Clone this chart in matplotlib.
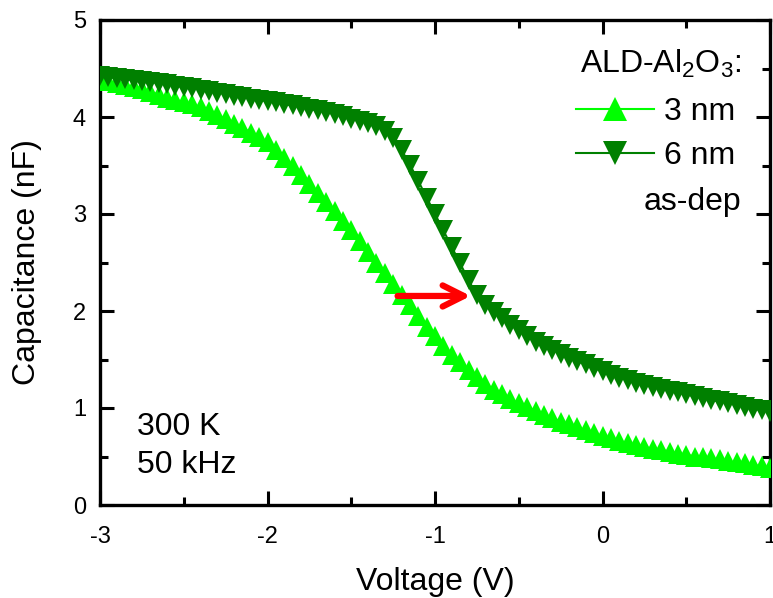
import numpy as np
import matplotlib.pyplot as plt
from matplotlib.lines import Line2D

plt.rcParams['font.family'] = ['Liberation Sans', 'DejaVu Sans']
plt.rcParams['mathtext.default'] = 'regular'
plt.rcParams['axes.unicode_minus'] = False

# gate voltage (V), 0.05 V steps
voltage = [-3.00, -2.95, -2.90, -2.85, -2.80, -2.75, -2.70, -2.65, -2.60, -2.55,
           -2.50, -2.45, -2.40, -2.35, -2.30, -2.25, -2.20, -2.15, -2.10, -2.05,
           -2.00, -1.95, -1.90, -1.85, -1.80, -1.75, -1.70, -1.65, -1.60, -1.55,
           -1.50, -1.45, -1.40, -1.35, -1.30, -1.25, -1.20, -1.15, -1.10, -1.05,
           -1.00, -0.95, -0.90, -0.85, -0.80, -0.75, -0.70, -0.65, -0.60, -0.55,
           -0.50, -0.45, -0.40, -0.35, -0.30, -0.25, -0.20, -0.15, -0.10, -0.05,
           0.00, 0.05, 0.10, 0.15, 0.20, 0.25, 0.30, 0.35, 0.40, 0.45,
           0.50, 0.55, 0.60, 0.65, 0.70, 0.75, 0.80, 0.85, 0.90, 0.95, 1.00]

# capacitance (nF), 3 nm ALD-Al2O3
cap_3nm = [4.38, 4.37, 4.35, 4.33, 4.31, 4.29, 4.26, 4.23, 4.20, 4.18,
           4.15, 4.13, 4.10, 4.06, 4.02, 3.98, 3.93, 3.89, 3.84, 3.79,
           3.74, 3.66, 3.58, 3.49, 3.40, 3.31, 3.22, 3.12, 3.03, 2.93,
           2.83, 2.72, 2.61, 2.50, 2.39, 2.28, 2.17, 2.06, 1.95, 1.84,
           1.74, 1.64, 1.55, 1.47, 1.39, 1.32, 1.25, 1.19, 1.14, 1.09,
           1.05, 1.01, 0.97, 0.93, 0.90, 0.86, 0.83, 0.80, 0.77, 0.74,
           0.71, 0.69, 0.66, 0.64, 0.62, 0.60, 0.58, 0.57, 0.55, 0.53,
           0.52, 0.50, 0.49, 0.48, 0.47, 0.45, 0.44, 0.43, 0.41, 0.40, 0.38]

# capacitance (nF), 6 nm ALD-Al2O3
cap_6nm = [4.42, 4.41, 4.40, 4.39, 4.38, 4.37, 4.36, 4.35, 4.34, 4.32,
           4.31, 4.30, 4.28, 4.27, 4.25, 4.24, 4.22, 4.21, 4.19, 4.18,
           4.16, 4.15, 4.13, 4.12, 4.10, 4.08, 4.07, 4.05, 4.03, 4.01,
           3.98, 3.96, 3.94, 3.91, 3.86, 3.78, 3.66, 3.51, 3.34, 3.17,
           3.00, 2.83, 2.66, 2.49, 2.32, 2.16, 2.06, 1.99, 1.93, 1.86,
           1.80, 1.74, 1.68, 1.64, 1.60, 1.56, 1.52, 1.48, 1.45, 1.41,
           1.38, 1.34, 1.31, 1.29, 1.26, 1.24, 1.22, 1.20, 1.18, 1.16,
           1.14, 1.12, 1.10, 1.08, 1.07, 1.05, 1.03, 1.01, 0.99, 0.98, 0.96]

light = '#00ff00'
dark = '#008000'

fig = plt.figure(figsize=(7.73, 5.98), dpi=100)
ax = fig.add_axes([100 / 773, 93 / 598, 670 / 773, 485 / 598])

ax.plot(voltage, cap_3nm, color=light, lw=1.5, marker='^', ms=14, mew=0, zorder=3)
ax.plot(voltage, cap_6nm, color=dark, lw=1.5, marker='v', ms=14, mew=0, zorder=4)

ax.set_xlim(-3, 1)
ax.set_ylim(0, 5)
ax.set_xticks([-3, -2, -1, 0, 1])
ax.set_xticks([-2.5, -1.5, -0.5, 0.5], minor=True)
ax.set_yticks([0, 1, 2, 3, 4, 5])
ax.set_yticks([0.5, 1.5, 2.5, 3.5, 4.5], minor=True)
ax.tick_params(which='both', direction='in', top=True, right=True, width=2.2,
               labelsize=17)
ax.tick_params(which='major', length=10)
ax.tick_params(which='minor', length=6)
ax.tick_params(axis='x', which='major', pad=15)
ax.tick_params(axis='y', which='major', pad=10)
for s in ax.spines.values():
    s.set_linewidth(2.4)

ax.set_xlabel('Voltage (V)', fontsize=23, labelpad=14)
ax.set_ylabel('Capacitance (nF)', fontsize=23, labelpad=22)

ax.annotate('', xy=(-0.77, 2.155), xytext=(-1.24, 2.155),
            arrowprops=dict(arrowstyle='->', color='red', lw=4.5,
                            mutation_scale=38), zorder=6)

handles = [Line2D([], [], color=light, lw=1.5, marker='^', ms=17, mew=0),
           Line2D([], [], color=dark, lw=1.5, marker='v', ms=17, mew=0)]
fig.legend(handles, ['3 nm', '6 nm'], loc='center left',
           bbox_to_anchor=(576 / 773, 1 - 134 / 598), frameon=False,
           fontsize=23, handlelength=2.45, handletextpad=0.3,
           labelspacing=0.43, borderpad=0, borderaxespad=0)

fig.text(741 / 773, 1 - 73 / 598, 'ALD-Al$_2$O$_3$:', fontsize=23,
         ha='right', va='baseline')
fig.text(741 / 773, 1 - 210 / 598, 'as-dep', fontsize=23,
         ha='right', va='baseline')
fig.text(137 / 773, 1 - 435 / 598, '300 K', fontsize=23, va='baseline')
fig.text(137 / 773, 1 - 473 / 598, '50 kHz', fontsize=23, va='baseline')

fig.savefig('out.png', dpi=100)
